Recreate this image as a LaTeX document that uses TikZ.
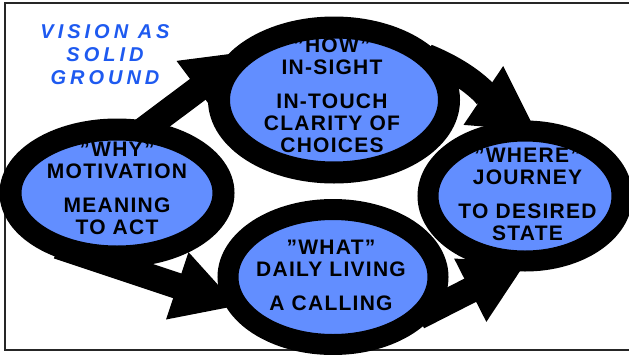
\documentclass[tikz,border=0pt]{standalone}
\usepackage{fontspec}
\setmainfont{Liberation Sans}
\newfontfamily\stagefont[LetterSpace=6]{Liberation Sans}
\newfontfamily\visionfont[LetterSpace=20]{Liberation Sans}
\usetikzlibrary{shapes.geometric,arrows.meta,backgrounds}
\definecolor{stageblue}{HTML}{628EFF}
\definecolor{visionblue}{HTML}{1E5AF0}
\tikzset{
	stage/.style={ellipse, fill=stageblue, inner sep=0pt},
	stagetext/.style={align=center, inner sep=0pt, font=\stagefont\bfseries\fontsize{21}{22}\selectfont},
	visiontext/.style={align=center, inner sep=0pt, text=visionblue, font=\visionfont\bfseries\itshape\fontsize{20}{23}\selectfont},
	ring/.style={draw=black, line width=#1},
	bigarrow/.style={line width=26pt, -{Triangle[length=64pt,width=66pt]}}
}
\begin{document}
\begin{tikzpicture}[x=1pt,y=-1pt]
	\useasboundingbox (0,0) rectangle (629,354);
	\clip (0,0) rectangle (629,354);

	\node[visiontext] (vision) at (105,55) {VISION AS\\SOLID\\GROUND};

	\node[stage, minimum width=213, minimum height=127] (why) at (117,193) {};
	\node[stage, minimum width=230, minimum height=145] (how) at (334,100) {};
	\node[stage, minimum width=194, minimum height=130] (where) at (525,196) {};
	\node[stage, minimum width=210, minimum height=135] (what) at (333,277) {};

	\node[stagetext] (whytext) at ([yshift=5pt]why.center) {”WHY”\\MOTIVATION\\[12pt]MEANING\\TO ACT};
	\node[stagetext] (howtext) at ([xshift=-2pt,yshift=4.5pt]how.center) {”HOW”\\IN-SIGHT\\[12pt]IN-TOUCH\\CLARITY OF\\CHOICES};
	\node[stagetext] (wheretext) at ([xshift=2.5pt,yshift=2pt]where.center) {”WHERE”\\JOURNEY\\[12pt]TO DESIRED\\STATE};
	\node[stagetext] (whattext) at ([xshift=-2pt,yshift=2pt]what.center) {”WHAT”\\DAILY LIVING\\[12pt]A CALLING};

	\draw[ring=22pt] (why.center) ellipse [x radius=106.5, y radius=63.5];
	\draw[ring=22pt] (how.center) ellipse [x radius=115, y radius=72.5];
	\draw[ring=21pt] (where.center) ellipse [x radius=97, y radius=65];
	\draw[ring=21pt] (what.center) ellipse [x radius=105, y radius=67.5];

	\begin{scope}[on background layer]
		\draw[black!85, line width=2pt] (629,3) -| (5,350) -- (629,350);
		\draw[bigarrow] (why.68) -- (how.150);
		\draw[bigarrow] (how.25) to[out=-22, in=146] (where.80);
		\draw[bigarrow] (why.222) -- (what.197);
		\draw[bigarrow] (what.335) -- (where.272);
	\end{scope}
\end{tikzpicture}
\end{document}
